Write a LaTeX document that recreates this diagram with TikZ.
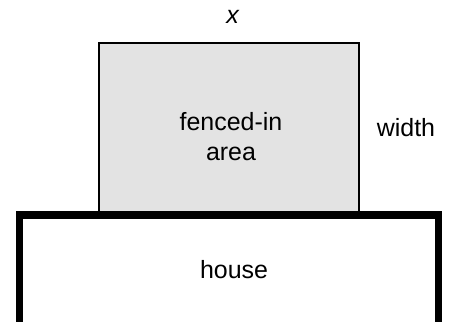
\documentclass[tikz,border=0pt]{standalone}
\usepackage{fontspec}
\setmainfont{Liberation Sans}
\usetikzlibrary{positioning}

\begin{document}
\begin{tikzpicture}[
    font = \fontsize{14.2}{17}\selectfont,
    fencebox/.style = {rectangle, draw, fill=black!11, line width=0.6pt, inner sep=0pt,
                       minimum width=5.2cm, minimum height=3.38cm},
    wall/.style = {line width=4pt},
    lbl/.style = {inner sep=0pt, align=center}
]
\useasboundingbox (0,0) rectangle (9.08,6.44);

% Fenced-in area
\node[fencebox] (fence) at (4.58,3.89) {};
\node[lbl] (fencetext) at (4.62,3.7) {fenced-in\\ area};

% Side labels
\node[lbl, above=0.38cm of fence.north, xshift=0.08cm] (xlabel) {\textit{x}};
\node[lbl, anchor=west, right=0.34cm of fence.east] (widthlabel) {width};

% House
\coordinate (hl) at (0.39,0);
\coordinate (roofl) at (0.39,2.14);
\coordinate (roofr) at (8.77,2.14);
\coordinate (hr) at (8.77,0);
\draw[wall] (hl) -- (roofl) -- (roofr) -- (hr);
\node[lbl] (house) at (4.68,1.04) {house};

\end{tikzpicture}
\end{document}
